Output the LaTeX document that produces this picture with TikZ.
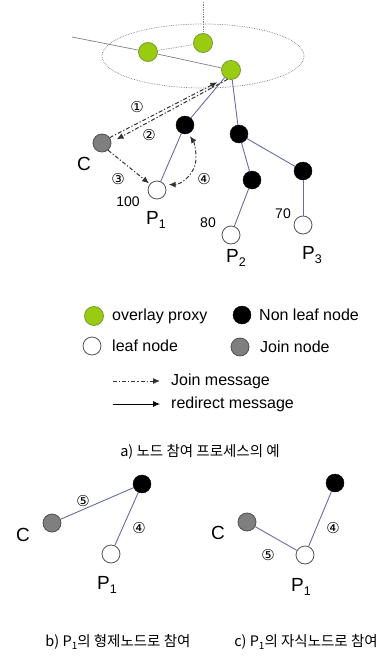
\documentclass[tikz,border=0pt]{standalone}
\usepackage{fontspec}
\setmainfont{Liberation Sans}
\newfontfamily\korfont{Noto Sans CJK KR}
\newfontfamily\cnumfont{DejaVu Sans}
\usetikzlibrary{arrows.meta}
\definecolor{proxyg}{HTML}{99CC11}
\definecolor{proxyd}{HTML}{7A9A30}
\definecolor{edgegray}{HTML}{555555}
\definecolor{joingray}{HTML}{7F7F7F}
\definecolor{joindark}{HTML}{505050}
\definecolor{treeblue}{HTML}{6A6AA8}
\definecolor{msggray}{HTML}{333333}
\tikzset{
 pnode/.style={circle,inner sep=0pt,minimum size=19pt,fill=proxyg,draw=proxyd,line width=0.8pt},
 nlnode/.style={circle,inner sep=0pt,minimum size=18pt,fill=black,draw=black},
 lfnode/.style={circle,inner sep=0pt,minimum size=18pt,fill=white,draw=edgegray,line width=0.8pt},
 jnnode/.style={circle,inner sep=0pt,minimum size=18pt,fill=joingray,draw=joindark,line width=0.8pt},
 tree/.style={draw=treeblue,line width=0.9pt},
 ovl/.style={draw=gray,line width=0.7pt},
 msg/.style={draw=msggray,line width=1pt,dash pattern=on 4pt off 2pt on 1.2pt off 2pt},
 tipend/.style={-{Latex[length=7pt,width=6pt]}},
 redir/.style={draw=black,line width=0.8pt,-{Latex[length=7pt,width=6pt]}},
 lbl/.style={font=\fontsize{19}{21}\selectfont,inner sep=0pt},
 num/.style={font=\fontsize{14}{16}\selectfont,inner sep=0pt},
 cn/.style={font=\cnumfont\fontsize{15}{16}\selectfont,inner sep=0pt},
 leg/.style={font=\fontsize{16}{18}\selectfont,anchor=west,inner sep=0pt},
 captxt/.style={font=\korfont\fontsize{14.5}{16}\selectfont,inner sep=0pt},
}
\newcommand{\Psub}[1]{P\raisebox{-4.5pt}{\fontsize{12.5}{12.5}\selectfont #1}}
\begin{document}
\begin{tikzpicture}[x=1pt,y=-1pt]
\useasboundingbox (0,0) rectangle (390,661);
% overlay ring
\draw[ovl,densely dotted] (203,56) ellipse [x radius=101pt, y radius=32pt];
\node[pnode] (g1) at (148,52) {};
\node[pnode] (g2) at (203,43) {};
\node[pnode] (g3) at (231,70) {};
\coordinate (top) at (203,2);
\coordinate (left) at (72,37);
\draw[ovl,densely dotted] (top) -- (g2);
\draw[ovl] (left) -- (g1);
\draw[ovl,densely dotted] (g1) -- (g2);
\draw[ovl] (g1) -- (g3);
% tree
\node[jnnode] (c) at (102,143) {};
\node[lbl] (cl) at (84,164) {C};
\node[nlnode] (b1) at (185,125) {};
\node[nlnode] (b2) at (239,134) {};
\node[nlnode] (b3) at (252,180) {};
\node[nlnode] (b4) at (303,171) {};
\node[lfnode] (p1) at (157,190) {};
\node[lfnode] (p2) at (231,235) {};
\node[lfnode] (p3) at (303,225) {};
\draw[tree] (g3) -- (b1);
\draw[tree] (g3) -- (b2);
\draw[tree] (b1) -- (p1);
\draw[tree] (b2) -- (b3);
\draw[tree] (b2) -- (b4);
\draw[tree] (b3) -- (p2);
\draw[tree] (b4) -- (p3);
\node[num] (n100) at (128,202) {100};
\node[lbl] (lp1) at (156,220) {\Psub{1}};
\node[num] (n80) at (208,223) {80};
\node[lbl] (lp2) at (236,258) {\Psub{2}};
\node[num] (n70) at (283,214) {70};
\node[lbl] (lp3) at (312,255) {\Psub{3}};
% messages
\draw[msg,tipend,shorten >=9pt] (c.35) -- (g3.235);
\draw[msg,tipend,shorten >=6pt] (g3.250) -- (c.5);
\draw[msg,tipend,shorten >=1pt] (c.310) -- (p1.140);
\coordinate (w4) at (196,158);
\draw[msg,{Latex[length=7pt,width=6pt]}-{Latex[length=7pt,width=6pt]},shorten <=3pt,shorten >=4pt] (b1.-70) to[out=-55,in=90] (w4) to[out=-90,in=0] (p1.35);
\node[cn] (m1) at (137,107) {①};
\node[cn] (m2) at (149,135) {②};
\node[cn] (m3) at (118,179) {③};
\node[cn] (m4) at (204,179) {④};
% legend
\node[pnode] (kg) at (94,316) {};
\node[leg] (tg) at (112,316) {overlay proxy};
\node[nlnode] (kb) at (242,315) {};
\node[leg] (tb) at (259,315) {Non leaf node};
\node[lfnode] (kw) at (92,346) {};
\node[leg] (tw) at (112,346) {leaf node};
\node[jnnode] (kj) at (240,347) {};
\node[leg] (tj) at (260,347) {Join node};
\coordinate (ja) at (113,381);
\coordinate (jb) at (160,381);
\draw[msg,tipend] (ja) -- (jb);
\node[leg] (tjm) at (171,381) {Join message};
\coordinate (ra) at (113,404);
\coordinate (rb) at (160,404);
\draw[redir] (ra) -- (rb);
\node[leg] (trm) at (171,404) {redirect message};
\node[captxt] (capa) at (200,452) {a) 노드 참여 프로세스의 예};
% b)
\node[nlnode] (bb) at (142,484) {};
\node[jnnode] (bc) at (52,523) {};
\node[lfnode] (bp) at (111,554) {};
\draw[tree] (bc) -- (bb);
\draw[tree] (bb) -- (bp);
\node[lbl] (bcl) at (23,535) {C};
\node[lbl] (bpl) at (107,585) {\Psub{1}};
\node[cn] (b5) at (83,501) {⑤};
\node[cn] (b4n) at (139,528) {④};
% c)
\node[nlnode] (cb) at (335,483) {};
\node[jnnode] (cc) at (247,522) {};
\node[lfnode] (cp) at (305,555) {};
\draw[tree] (cc) -- (cp);
\draw[tree] (cp) -- (cb);
\node[lbl] (ccl) at (218,533) {C};
\node[lbl] (cpl) at (301,587) {\Psub{1}};
\node[cn] (c5) at (268,555) {⑤};
\node[cn] (c4n) at (333,528) {④};
\node[captxt] (capb) at (118,642) {b) P\raisebox{-3pt}{\fontsize{10}{10}\selectfont 1}의 형제노드로 참여};
\node[captxt] (capc) at (306,642) {c) P\raisebox{-3pt}{\fontsize{10}{10}\selectfont 1}의 자식노드로 참여};
\end{tikzpicture}
\end{document}
